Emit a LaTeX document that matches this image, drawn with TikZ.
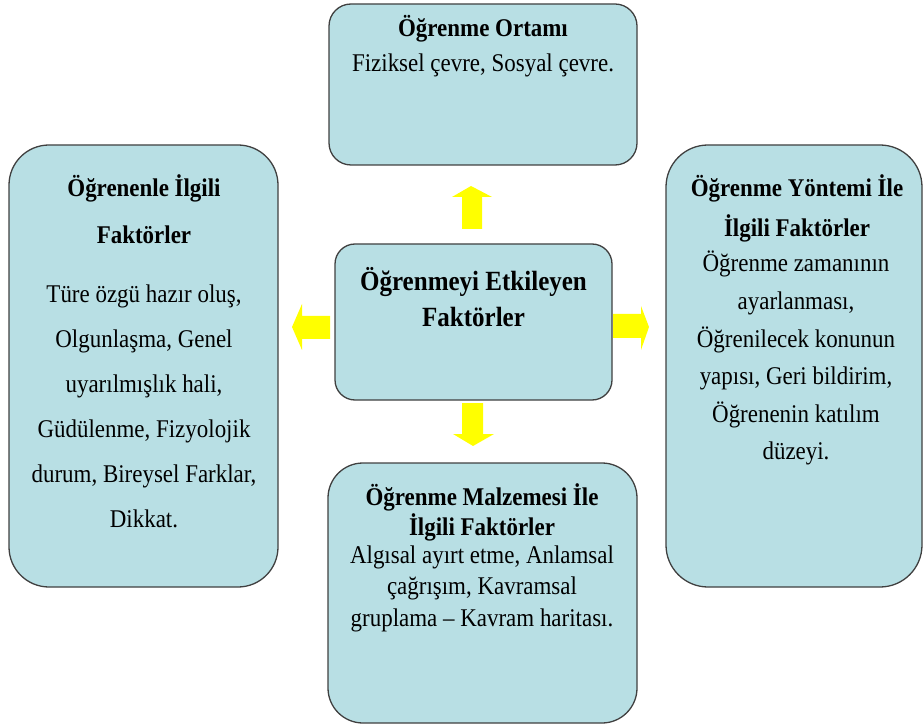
\documentclass[tikz,border=0pt]{standalone}
\usepackage{fontspec}
\setmainfont{Liberation Serif}[FakeStretch=0.9]
\definecolor{boxfill}{HTML}{B8DFE4}
\definecolor{boxline}{HTML}{404040}
\definecolor{arrowyellow}{HTML}{FFFF00}
\newcommand\stacklines[1]{\begin{tabular}[t]{@{}c@{}}#1\end{tabular}}
\begin{document}
\begin{tikzpicture}[x=1pt,y=-1pt,
  box/.style={draw=boxline, line width=1.3pt, fill=boxfill, inner sep=0pt},
  txt/.style={anchor=base, inner sep=0pt, text=black},
  blockarrow/.style={fill=arrowyellow, draw=none}]
\useasboundingbox (0,0) rectangle (924,727);
% boxes
\node[box, rounded corners=22pt, minimum width=308pt, minimum height=161pt] (top) at (483,84.5) {};
\node[box, rounded corners=20pt, minimum width=277pt, minimum height=156pt] (mid) at (473.5,322) {};
\node[box, rounded corners=40pt, minimum width=269pt, minimum height=442pt] (left) at (143.5,366) {};
\node[box, rounded corners=42pt, minimum width=256pt, minimum height=442pt] (right) at (794,366) {};
\node[box, rounded corners=35pt, minimum width=309pt, minimum height=260pt] (bottom) at (482.5,593) {};
% arrows
\fill[blockarrow] (471,186) -- (492,197) -- (482,197) -- (482,229) -- (462,229) -- (462,197) -- (452,197) -- cycle;
\fill[blockarrow] (473,446) -- (494,434) -- (483,434) -- (483,403) -- (462,403) -- (462,434) -- (453,434) -- cycle;
\fill[blockarrow] (292,327) -- (302,304) -- (302,316) -- (330,316) -- (330,339) -- (302,339) -- (302,350) -- cycle;
\fill[blockarrow] (649,327) -- (641,306) -- (641,314) -- (613,314) -- (613,338) -- (641,338) -- (641,350) -- cycle;
% texts
\node[txt, font=\bfseries\fontsize{25.5}{28}\selectfont] (toptitle) at (483,37) {Öğrenme Ortamı};
\node[txt, font=\fontsize{25.5}{28}\selectfont] (topbody) at (483,72) {Fiziksel çevre, Sosyal çevre.};
\node[txt, font=\bfseries\fontsize{27.8}{36}\selectfont] (midtitle) at (473.5,291) {\stacklines{Öğrenmeyi Etkileyen\\Faktörler}};
\node[txt, font=\bfseries\fontsize{25.5}{47}\selectfont] (lefttitle) at (144,197) {\stacklines{Öğrenenle İlgili\\Faktörler}};
\node[txt, font=\fontsize{25.5}{45}\selectfont] (leftbody) at (144,303) {\stacklines{Türe özgü hazır oluş,\\Olgunlaşma, Genel\\uyarılmışlık hali,\\Güdülenme, Fizyolojik\\durum, Bireysel Farklar,\\Dikkat.}};
\node[txt, font=\bfseries\fontsize{25.5}{40}\selectfont] (righttitle) at (797,197) {\stacklines{Öğrenme Yöntemi İle\\İlgili Faktörler}};
\node[txt, font=\fontsize{25.5}{37.6}\selectfont] (rightbody) at (796,272) {\stacklines{Öğrenme zamanının\\ayarlanması,\\Öğrenilecek konunun\\yapısı, Geri bildirim,\\Öğrenenin katılım\\düzeyi.}};
\node[txt, font=\bfseries\fontsize{25.5}{28}\selectfont] (bottomtitle) at (482,505) {\stacklines{Öğrenme Malzemesi İle\\İlgili Faktörler}};
\node[txt, font=\fontsize{25.5}{31.5}\selectfont] (bottombody) at (482,563) {\stacklines{Algısal ayırt etme, Anlamsal\\çağrışım, Kavramsal\\gruplama – Kavram haritası.}};
\end{tikzpicture}
\end{document}
